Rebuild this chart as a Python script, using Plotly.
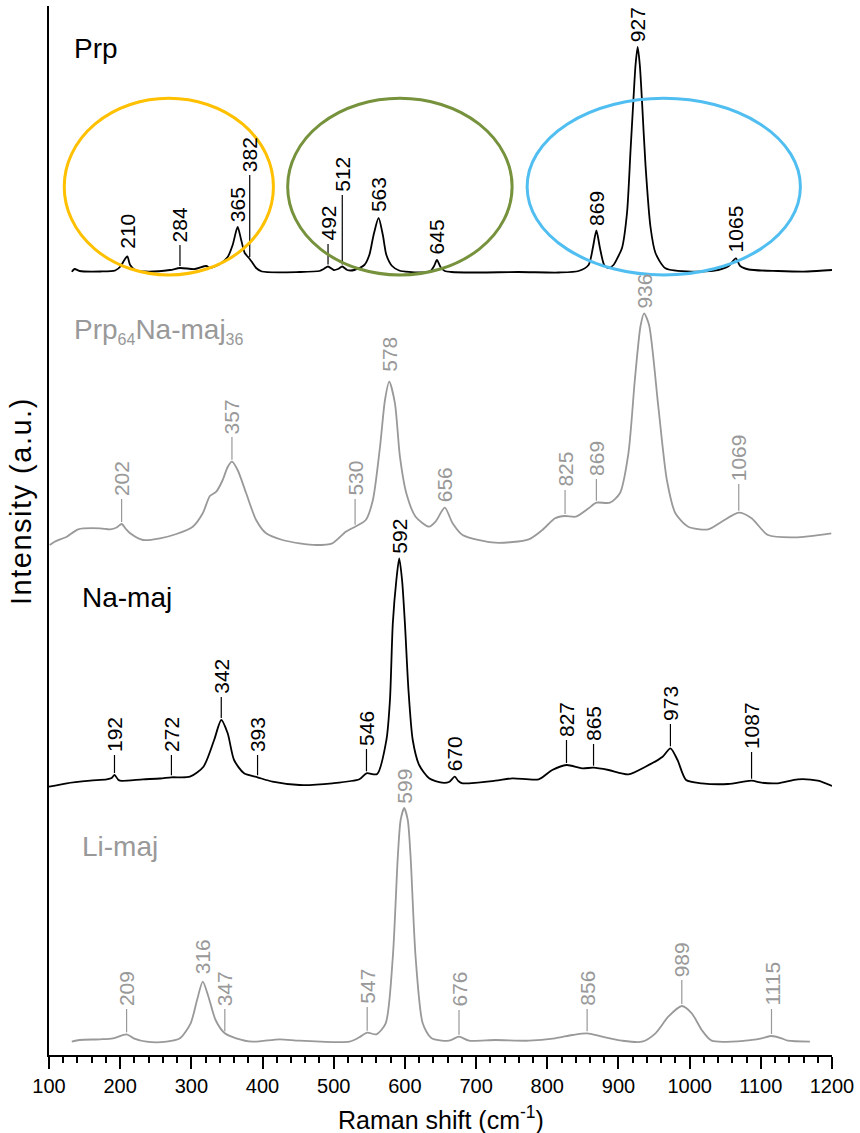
import numpy as np
import plotly.graph_objects as go

# ---------------- spectra (Raman shift in cm-1, intensity in a.u.) ----------------
prp_wn = [132, 136, 143, 172, 193, 201, 205, 210, 214, 221, 235, 270, 284, 305, 321, 326,
          340, 351, 358, 365, 370, 375, 382, 386, 391, 399, 452, 480, 486, 492, 500, 506,
          512, 519, 529, 543, 550, 556, 563, 569, 574, 582, 592, 620, 636, 641, 645, 650,
          656, 665, 704, 760, 816, 844, 858, 864, 869, 874, 880, 886, 893, 900, 905, 912,
          917, 921, 924, 927, 930, 933, 938, 945, 952, 966, 1003, 1040, 1055, 1065, 1071,
          1083, 1124, 1166, 1200]
prp_int = [3.3, 6, 4, 3.5, 4.5, 9, 14, 18.5, 10, 5, 3.5, 5, 7, 6, 9, 7,
           11, 18, 30, 48, 35, 22, 16, 12, 7, 3.5, 3, 4, 6, 8.5, 5, 6,
           8.5, 5, 5, 10, 20, 40, 57, 40, 20, 9, 4.5, 2.5, 4, 9, 15, 8,
           4, 3, 2.5, 3, 2.5, 4, 10, 27, 44.5, 27, 10, 7, 10, 19, 27, 62,
           125, 175, 210, 228, 210, 175, 110, 48, 22, 6.7, 3.3, 5, 9, 16.7, 9,
           5.5, 4, 3.5, 5]

mix_wn = [101, 108, 125, 141, 172, 186, 195, 202, 208, 214, 232, 256, 279, 302, 316, 326,
          335, 344, 351, 357, 365, 377, 391, 405, 428, 452, 475, 498, 517, 530, 545, 555,
          565, 572, 578, 586, 593, 602, 615, 634, 643, 656, 667, 681, 727, 774, 793, 811,
          825, 840, 858, 869, 888, 902, 914, 923, 931, 936, 943, 956, 968, 980, 998, 1026,
          1045, 1069, 1087, 1110, 1148, 1199]
mix_int = [3, 6.3, 11.3, 18.7, 19.7, 18.7, 20.5, 24, 19, 14.7, 8, 9.7, 14, 21.3, 34.7, 52,
           56.3, 68, 81, 86.3, 78, 54.7, 28, 14.7, 8, 4.7, 3, 4.7, 16.3, 21.3, 28, 48,
           101, 148, 166.3, 144.7, 91.3, 54.7, 31.3, 21.3, 26.3, 40.3, 24.7, 13, 5.3, 8.7, 18, 29.7,
           32, 31.3, 39.7, 45.3, 45.3, 54.7, 94.7, 168, 222, 234.7, 223, 141.3, 68, 34.7, 21.3, 18.7,
           26.3, 35.3, 29.7, 13, 10.7, 14.7]

na_wn = [100, 125, 158, 181, 188, 192, 197, 200, 232, 256, 272, 298, 317, 332, 342, 351,
         360, 374, 393, 414, 452, 498, 536, 546, 561, 574, 579, 583, 588, 592, 596, 600,
         605, 611, 620, 634, 652, 662, 670, 675, 681, 727, 751, 788, 807, 827, 849, 865,
         886, 914, 938, 962, 973, 983, 995, 1017, 1054, 1087, 1101, 1124, 1152, 1180, 1200]
na_int = [3.3, 6.7, 9.3, 10.7, 12, 15, 10.5, 9.3, 10.7, 11.5, 12.7, 13.3, 23.3, 50, 70, 56.7,
          30, 16.7, 12.7, 8.3, 5, 6.7, 10.7, 16.7, 16, 50, 90, 166.7, 210, 231.7, 210, 166.7,
          100, 50, 25, 11.7, 7.3, 8, 13.3, 9, 6.7, 9.3, 11.7, 10.7, 20, 25, 21.7, 22.3,
          20, 15.7, 23.3, 33.3, 41.7, 30, 10, 6.7, 6, 9.3, 7.3, 6.7, 10.7, 9.3, 4]

li_wn = [132, 143, 172, 190, 209, 219, 237, 265, 284, 299, 308, 316, 324, 334, 347, 363,
         386, 424, 452, 522, 536, 547, 560, 573, 583, 590, 594, 599, 604, 608, 615, 625,
         637, 662, 676, 690, 727, 774, 811, 835, 856, 877, 905, 933, 952, 970, 989, 1003,
         1017, 1031, 1078, 1101, 1115, 1129, 1138, 1169]
li_int = [3.3, 5, 5.7, 6.7, 10.7, 6.7, 3.3, 3.3, 6.7, 21.7, 45, 63.3, 48.3, 25, 11.7, 6.7,
          3.3, 5.7, 4.3, 3.3, 7.7, 12.3, 10.7, 21.7, 88, 188, 225, 237, 225, 188, 88, 21.7,
          7, 4.3, 8.3, 4.3, 5, 4.3, 6.7, 10, 11.7, 8.3, 4.3, 3.3, 11.7, 28.3, 39, 31.7,
          15, 4.3, 4.3, 6.7, 9, 6.7, 4.3, 3.3]

# peak labels: (Raman shift, height where the label starts, leader line drawn)
prp_peaks = [(210, 25, False), (284, 32, True), (365, 52, False), (382, 102, True),
             (492, 33, True), (512, 82, True), (563, 62, False), (645, 20, False),
             (869, 48, False), (927, 232, False), (1065, 22, False)]
mix_peaks = [(202, 51, True), (357, 113, True), (530, 51, True), (578, 175, False),
             (656, 45, False), (825, 60, True), (869, 71, True), (936, 238, False),
             (1069, 66, True)]
na_peaks = [(192, 37, True), (272, 37, True), (342, 95, True), (393, 37, True),
            (546, 43, True), (592, 235, False), (670, 18, False), (827, 52, True),
            (865, 48, True), (973, 68, True), (1087, 40, True)]
li_peaks = [(209, 38, True), (316, 70, False), (347, 38, True), (547, 40, True),
            (599, 240, False), (676, 37, True), (856, 38, True), (989, 67, True),
            (1115, 38, True)]

x_ticks = [100, 200, 300, 400, 500, 600, 700, 800, 900, 1000, 1100, 1200]

# ---------------- styling ----------------
BLACK = "#000000"
GREY = "#999999"
FONT = "Liberation Sans, Arial, sans-serif"


def small_sub(s):
    return '<sub><span style="font-size:16px">%s</span></sub>' % s


spectra = [
    # name, wn, intensity, labels, colour, vertical offset, name position
    ("Prp", prp_wn, prp_int, prp_peaks, BLACK, 780, (132, 1007)),
    ("Prp" + small_sub("64") + "Na-maj" + small_sub("36"), mix_wn, mix_int, mix_peaks,
     GREY, 507, (132, 724)),
    ("Na-maj", na_wn, na_int, na_peaks, BLACK, 265, (144, 458)),
    ("Li-maj", li_wn, li_int, li_peaks, GREY, 10, (144, 209)),
]

fig = go.Figure()
annotations = []
shapes = []

for name, wn, inten, peaks, col, off, (nx, ny) in spectra:
    wn = np.asarray(wn, float)
    y = np.asarray(inten, float) + off
    fig.add_trace(go.Scatter(x=wn, y=y, mode="lines",
                             line=dict(color=col, width=1.8, shape="spline", smoothing=0.7),
                             showlegend=False, hoverinfo="skip"))
    annotations.append(dict(x=nx, y=ny, xref="x", yref="y", text=name, showarrow=False,
                            xanchor="left", yanchor="middle",
                            font=dict(family=FONT, size=28, color=col)))
    for pos, lvl, lead in peaks:
        top = off + lvl
        if lead:
            base = np.interp(pos, wn, y) + 2
            shapes.append(dict(type="line", xref="x", yref="y", x0=pos, x1=pos,
                               y0=base, y1=top - 2, line=dict(color=col, width=1.2),
                               layer="above"))
        annotations.append(dict(x=pos, y=top, xref="x", yref="y", text=str(pos),
                                showarrow=False, textangle=-90, xanchor="center",
                                yanchor="bottom", borderpad=0,
                                font=dict(family=FONT, size=21, color=col)))

# highlighted regions of the Prp spectrum
regions = [((121.4, 415.3), "#FFC000"), ((435.3, 750.6), "#76923C"), ((771.7, 1155.6), "#50BEF0")]
for (x0, x1), col in regions:
    shapes.append(dict(type="circle", xref="x", yref="y", x0=x0, x1=x1, y0=780, y1=956.7,
                       line=dict(color=col, width=3), layer="above"))

# axis titles
annotations.append(dict(x=0.5, y=-0.060, xref="paper", yref="paper",
                        text="Raman shift (cm<sup>-1</sup>)", showarrow=False,
                        xanchor="center", yanchor="middle",
                        font=dict(family=FONT, size=25, color=BLACK)))
annotations.append(dict(x=-0.036, y=0.528, xref="paper", yref="paper",
                        text='<span style="letter-spacing:1.5px">Intensity (a.u.)</span>',
                        showarrow=False, textangle=-90,
                        xanchor="center", yanchor="middle",
                        font=dict(family=FONT, size=29, color=BLACK)))

fig.update_layout(
    width=860, height=1133,
    margin=dict(l=49, r=26, t=6, b=78),
    plot_bgcolor="white", paper_bgcolor="white",
    font=dict(family=FONT, color=BLACK),
    annotations=annotations, shapes=shapes,
    xaxis=dict(range=[100, 1200], tickvals=x_ticks, ticktext=[str(t) for t in x_ticks],
               ticks="outside", ticklen=12, tickwidth=2, tickcolor=BLACK,
               minor=dict(dtick=20, tick0=100, ticks="outside", ticklen=6, tickwidth=1.5,
                          tickcolor=BLACK),
               showline=True, linecolor=BLACK, linewidth=2, showgrid=False, zeroline=False,
               tickfont=dict(family=FONT, size=20, color=BLACK)),
    yaxis=dict(range=[0, 1049], showline=True, linecolor=BLACK, linewidth=2,
               showticklabels=False, ticks="", showgrid=False, zeroline=False),
)

fig.write_html("out.html")
